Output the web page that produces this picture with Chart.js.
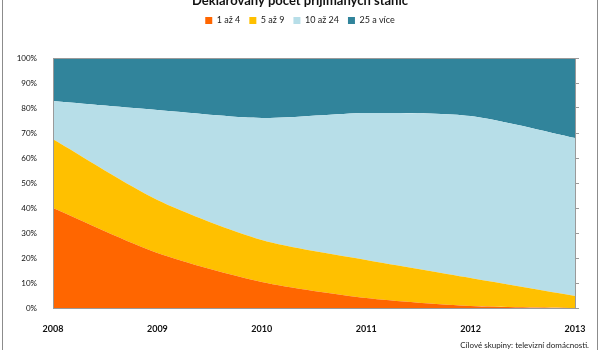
<!DOCTYPE html>
<html>
<head>
<meta charset="utf-8">
<script src="https://cdn.jsdelivr.net/npm/chart.js@4/dist/chart.umd.min.js"></script>
<style>
  html, body { margin: 0; padding: 0; background: #fff; overflow: hidden; }
  .frame { position: absolute; left: 2px; top: -10px; width: 594px; height: 362px; border: 1px solid #8c8c8c; }
  .stage { position: absolute; left: 0; top: -8px; width: 600px; height: 358px; }
</style>
</head>
<body>
<div class="frame"></div>
<div class="stage"><canvas id="chart" width="600" height="358"></canvas></div>
<script>
const years = ['2008', '2009', '2010', '2011', '2012', '2013'];
const seriesNames = ['1 až 4', '5 až 9', '10 až 24', '25 a více'];
const share1to4 = [40, 22, 10.4, 4, 0.8, 0];
const share5to9 = [27.5, 21.2, 16.8, 15.2, 11.2, 4.8];
const share10to24 = [15.3, 36, 48.8, 58.8, 64.8, 63.2];
const share25plus = [17.2, 20.8, 24, 22, 23.2, 32];
const percentTicks = [0, 10, 20, 30, 40, 50, 60, 70, 80, 90, 100];

const colors = ['#ff6600', '#ffc000', '#b7dee8', '#31849b'];
const font = 'Lato, "Open Sans", sans-serif';

function area(label, data, color, index) {
  return {
    label,
    data,
    backgroundColor: color,
    borderColor: color,
    borderWidth: 0,
    pointRadius: 0,
    tension: 0.25,
    fill: index === 0 ? 'origin' : '-1'
  };
}

const plotFrame = {
  id: 'plotFrame',
  afterDatasetsDraw(chart) {
    const { ctx, chartArea: a } = chart;
    ctx.save();
    ctx.strokeStyle = '#9a9a9a';
    ctx.lineWidth = 1;
    ctx.strokeRect(Math.round(a.left) + 0.5, Math.round(a.top) + 0.5,
      Math.round(a.right - a.left), Math.round(a.bottom - a.top));
    ctx.restore();
  },
  afterDraw(chart) {
    const { ctx } = chart;
    ctx.save();
    ctx.fillStyle = '#222';
    ctx.font = '8px ' + font;
    ctx.textAlign = 'right';
    ctx.textBaseline = 'middle';
    ctx.fillText('Cílové skupiny: televizní domácnosti.', 589, 353);
    ctx.restore();
  }
};

const chart = new Chart(document.getElementById('chart'), {
  type: 'line',
  data: {
    labels: years,
    datasets: [share1to4, share5to9, share10to24, share25plus]
      .map((d, i) => area(seriesNames[i], d, colors[i], i))
  },
  options: {
    responsive: false,
    animation: false,
    layout: { padding: 0 },
    plugins: {
      title: {
        display: true,
        text: 'Deklarovaný počet přijímaných stanic',
        color: '#111',
        font: { family: font, size: 13, weight: 'bold', lineHeight: 1 },
        padding: { top: 2, bottom: 0 }
      },
      legend: {
        display: true,
        labels: {
          boxWidth: 7,
          boxHeight: 7,
          padding: 9,
          color: '#222',
          font: { family: font, size: 9 }
        }
      },
      tooltip: { enabled: false }
    },
    scales: {
      x: {
        offset: false,
        grid: { display: false },
        border: { display: false },
        ticks: { color: '#111', font: { family: font, size: 9, weight: 'bold' }, padding: 8, maxRotation: 0 },
        afterFit(s) { s.height = 42; }
      },
      gap: {
        type: 'category',
        position: 'top',
        display: true,
        grid: { display: false },
        border: { display: false },
        ticks: { display: false },
        afterFit(s) { s.height = 23; }
      },
      y: {
        stacked: true,
        min: 0,
        max: 100,
        afterBuildTicks(s) { s.ticks = percentTicks.map(v => ({ value: v })); },
        grid: { display: false },
        border: { display: false },
        ticks: { color: '#111', font: { family: font, size: 8 }, padding: 8, callback: v => v + '%' },
        afterFit(s) { s.width = 53; }
      },
      y2: {
        position: 'right',
        min: 0,
        max: 100,
        afterBuildTicks(s) { s.ticks = percentTicks.map(v => ({ value: v })); },
        grid: { drawOnChartArea: false, tickLength: 4, color: '#9a9a9a' },
        border: { display: false },
        ticks: { display: false },
        afterFit(s) { s.width = 25; }
      }
    }
  },
  plugins: [plotFrame]
});
</script>
</body>
</html>
